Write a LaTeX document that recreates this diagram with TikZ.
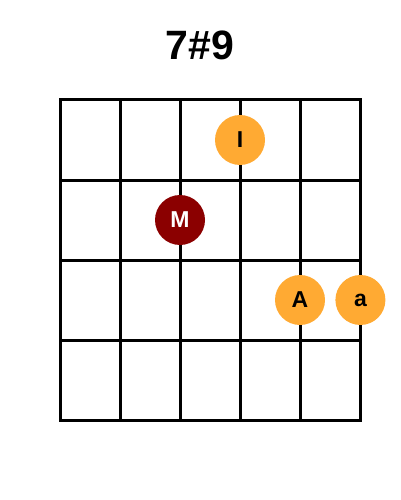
\documentclass[tikz,border=0pt]{standalone}
\usepackage{fontspec}
\setmainfont{Liberation Sans}
\usetikzlibrary{positioning}
\definecolor{noteorange}{HTML}{FFAA33}
\definecolor{notered}{HTML}{8B0000}
\tikzstyle{note} = [circle, 
minimum size=50pt, 
inner sep=0pt, 
text centered, 
font=\bfseries\fontsize{23}{23}\selectfont, 
fill=noteorange, 
text=black]
\tikzstyle{root} = [note, fill=notered, text=white]
\tikzstyle{fret} = [line width=3pt, black]
\begin{document}
\begin{tikzpicture}[x=1pt, y=-1pt]
        \useasboundingbox (0,0) rectangle (400,500);
        \node (title) at (200,45) {\bfseries\fontsize{41}{41}\selectfont 7\#9};
        \foreach \x in {60,120,...,360} \draw [fret, line cap=rect] (\x,100) -- (\x,420);
        \foreach \y in {100,180,...,420} \draw [fret, line cap=rect] (60,\y) -- (360,\y);
        \node (i) [note] at (240,140) {I};
        \node (m) [root] at (180,220) {M};
        \node (A) [note] at (300,300) {A};
        \node (a) [note, right=10pt of A] {a};
    \end{tikzpicture}
\end{document}
